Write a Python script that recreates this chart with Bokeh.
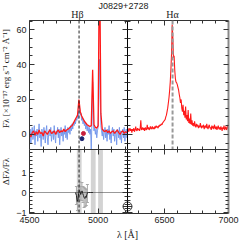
import numpy as np
from bokeh.plotting import figure
from bokeh.models import (Range1d, LinearAxis, FixedTicker, Span, Label, Whisker,
                          ColumnDataSource, TeeHead, BoxAnnotation)
from bokeh.layouts import column, row
from bokeh.embed import file_html
from bokeh.resources import INLINE

# ---------------- data ----------------
TITLE = "J0829+2728"
X_LEFT = (4500, 5214)
X_RIGHT = (6211, 7000)
Y_TOP = (-8.7, 65.3)
Y_BOT = (-1.05, 2.15)
HBETA = 4861
HALPHA = 6563

blue_left_start, blue_left_step = 4500, 5
blue_left = [-2, 3, -5, 1, 4, -3, 0, 5, -6, 2,
             -1, 3, -4, 1, 6, -2, 0, -7, 3, 1,
             -3, 4, 0, -5, 2, 5, -2, -6, 1, 3,
             -1, 4, -4, 0, 2, -3, 5, -1, -5, 2,
             0, 4, -2, 3, -6, 1, 4, -1, 2, -4,
             3, 0, 5, -2, 2, -3, 4, 1, 3, 0,
             5, 2, 6, 3, 7, 5, 8, 6, 9, 8,
             11, 9, 13, 15, 11, 12, 8, 10, 6, 8,
             5, 7, 3, 6, 2, 5, 1, 4, 0, 3,
             -9, 8, 30, 6, 2, 4, 0, 3, -2, 2,
             4, 20, 43, 25, 5, 2, -1, 3, -3, 1,
             4, -2, 2, -4, 3, 0, 5, -3, 1, -5,
             2, 4, -1, 3, -4, 0, 2, -6, 3, 1,
             -2, 4, -3, 2, -5, 1, 3, -2, 4, -4,
             1, 3, -2, 2]

red_left_start, red_left_step = 4500, 10
red_left = [0.5, -1.5, 1.0, 2.0, -0.5, 1.5, 0.0, 2.5, 0.5, 1.0,
            -1.0, 2.0, 1.0, 0.0, 1.5, 2.5, 0.5, 1.0, 2.0, 0.0,
            1.5, 2.5, 1.0, 2.0, 1.5, 3.0, 1.5, 2.5, 3.0, 3.5,
            4.5, 5.0, 6.5, 8.0, 9.5, 11.0, 20.0, 13.0, 10.5, 9.0,
            7.5, 6.5, 5.5, 5.0, 4.5, 5.0, 37.0, 5.5, 4.0, 3.5,
            5.0, 110.0, 12.0, 3.0, 2.0, 1.5, 2.5, 1.0, 2.0, 0.5,
            1.5, 2.0, 0.5, 1.5, 2.5, 1.0, 0.0, 1.5, 2.0, 0.5,
            1.5, 1.0]

red_right_start, red_right_step = 6210, 5
red_right = [2.0, 3.5, 1.5, 2.5, 3.5, 2.0, 3.0, 1.0, 3.0, 2.0,
             3.5, 1.5, 2.5, 4.5, 2.5, 2.0, 3.5, 2.5, 3.0, 2.0,
             3.5, 8.0, 2.5, 3.0, 4.0, 2.5, 3.5, 2.0, 4.0, 3.0,
             2.5, 5.5, 3.0, 4.0, 2.5, 3.5, 4.5, 3.0, 3.5, 4.5,
             3.0, 4.0, 3.0, 4.5, 3.5, 5.0, 4.0, 4.5, 3.5, 5.0,
             4.5, 5.5, 5.0, 6.0, 5.5, 6.5, 7.0, 7.5, 8.0, 8.5,
             10.0, 11.0, 13.0, 15.0, 18.0, 21.0, 25.0, 30.0, 37.0, 46.0,
             63.0, 56.0, 44.0, 45.0, 37.0, 32.0, 30.0, 29.5, 28.5, 27.0,
             25.5, 23.0, 21.0, 18.0, 20.0, 15.0, 13.0, 17.0, 11.0, 13.5,
             9.5, 16.0, 8.5, 11.0, 7.5, 14.0, 6.5, 9.0, 6.0, 12.0,
             5.5, 8.0, 5.0, 6.5, 4.5, 7.5, 5.0, 4.0, 6.0, 4.5,
             5.5, 3.5, 5.0, 4.0, 6.5, 4.5, 3.5, 5.0, 4.0, 5.5,
             3.0, 4.5, 5.0, 3.5, 6.0, 4.0, 3.0, 4.5, 5.5, 3.5,
             4.0, 2.5, 5.0, 3.5, 4.5, 3.0, 5.5, 4.0, 3.0, 4.5,
             2.5, 4.0, 5.0, 3.0, 4.0, 2.5, 4.5, 3.5, 2.0, 4.0,
             3.0, 5.0, 2.5, 3.5, 4.5, 2.5, 3.5, 5.5, 3.0]

dot_red = (4893, 0.5)
dot_blue = (4882, -2.5)

resid_wave = [4835, 4842, 4848, 4853, 4858, 4863, 4868, 4873, 4878, 4883, 4888,
              4893, 4898, 4903, 4908, 4913, 4918, 4923, 4930, 4945, 4962]
resid_val = [0.0, -0.15, -0.45, -0.35, -0.05, 0.1, 0.05, -0.1, 0.0, 0.08, -0.05,
             -0.15, -0.25, -0.3, -0.2, -0.25, -0.1, 0.0, 0.0, 0.0, 0.0]
err_wave = [4842, 4850, 4858, 4866, 4874, 4882, 4890, 4898, 4906, 4914, 4922]
err_val = [-0.15, -0.4, -0.05, 0.08, -0.05, 0.05, -0.1, -0.25, -0.25, -0.25, -0.05]
err_size = [0.45, 0.5, 0.4, 0.45, 0.35, 0.45, 0.4, 0.5, 0.45, 0.4, 0.45]

mask_lo = [4845, 4947, 5000]
mask_hi = [4880, 4982, 5035]
earth_y = -0.7

top_major = [0, 20, 40, 60]
top_minor = [-5, 5, 10, 15, 25, 30, 35, 45, 50, 55, 65]
bot_major = [-1, 0, 1]
bot_minor = [-0.8, -0.6, -0.4, -0.2, 0.2, 0.4, 0.6, 0.8, 1.2, 1.4, 1.6, 1.8, 2.0]
left_major = [4500, 5000]
left_minor = [4600, 4700, 4800, 4900, 5100, 5200]
right_major = [6500, 7000]
right_minor = [6300, 6400, 6600, 6700, 6800, 6900]

YLABEL_TOP = "Fλ [×10⁻¹⁷ erg s⁻¹ cm⁻² Å⁻¹]"
YLABEL_BOT = "ΔFλ/Fλ"
XLABEL = "λ [Å]"

# ---------------- helpers ----------------
SANS = "Liberation Sans"
SERIF = "Liberation Serif"


def make_fig(w, h, xr, yr, mb):
    p = figure(width=w, height=h, x_range=Range1d(*xr), y_range=Range1d(*yr),
               output_backend="svg", toolbar_location=None,
               x_axis_type=None, y_axis_type=None,
               min_border_left=mb[0], min_border_right=mb[1],
               min_border_top=mb[2], min_border_bottom=mb[3])
    p.outline_line_color = None
    p.background_fill_color = "white"
    p.border_fill_color = "white"
    return p


def add_axis(p, side, ticks, minor, labels=False, color="#333333", width=1,
             overrides=None, tick_in=5, minor_in=3):
    ax = LinearAxis(ticker=FixedTicker(ticks=ticks, minor_ticks=minor))
    ax.major_tick_in = tick_in
    ax.major_tick_out = 0
    ax.minor_tick_in = minor_in
    ax.minor_tick_out = 0
    ax.axis_line_color = color
    ax.axis_line_width = width
    ax.major_tick_line_color = "#333333"
    ax.minor_tick_line_color = "#333333"
    if labels:
        ax.major_label_text_font = SANS
        ax.major_label_text_font_size = "9px"
        ax.major_label_standoff = 3
        ax.major_label_text_color = "#222222"
    else:
        ax.major_label_text_font_size = "0px"
        ax.major_label_text_color = None
        ax.major_label_standoff = 0
    if overrides:
        ax.major_label_overrides = overrides
    p.add_layout(ax, side)
    return ax


bl_x = blue_left_start + blue_left_step * np.arange(len(blue_left))
rl_x = red_left_start + red_left_step * np.arange(len(red_left))
rr_x = red_right_start + red_right_step * np.arange(len(red_right))

BLUE = "#6f93ea"
RED = "#ff1a1a"

# ---------------- header ----------------
W_TOTAL = 241
header = make_fig(W_TOTAL, 20, (0, W_TOTAL), (0, 20), (0, 0, 0, 0))
header.add_layout(Label(x=123, y=14.5, text=TITLE, text_font=SANS, text_font_size="9px",
                        text_align="center", text_baseline="middle", text_color="#222222"))
header.add_layout(Label(x=77, y=6.5, text="Hβ", text_font=SERIF, text_font_size="10px",
                        text_align="center", text_baseline="middle", text_color="#222222"))
header.add_layout(Label(x=172, y=6.5, text="Hα", text_font=SERIF, text_font_size="10px",
                        text_align="center", text_baseline="middle", text_color="#222222"))

# ---------------- y-title strips ----------------
TW = 13
yt_top = make_fig(TW, 129, (0, TW), (0, 129), (0, 0, 0, 0))
yt_top.add_layout(Label(x=5, y=71, text=YLABEL_TOP, angle=np.pi / 2, text_font=SERIF,
                        text_font_size="9px", text_align="center", text_baseline="middle",
                        text_color="#222222"))
yt_bot = make_fig(TW, 79, (0, TW), (0, 79), (0, 0, 0, 0))
yt_bot.add_layout(Label(x=5, y=52, text=YLABEL_BOT, angle=np.pi / 2, text_font=SERIF,
                        text_font_size="9px", text_align="center", text_baseline="middle",
                        text_color="#222222"))

LB = 27 - TW  # left border of the left panels

# ---------------- top-left ----------------
tl = make_fig(127 - TW, 129, X_LEFT, Y_TOP, (LB, 0, 0, 0))
add_axis(tl, "left", top_major, top_minor, labels=True)
add_axis(tl, "right", top_major, top_minor, color="black", width=1)
add_axis(tl, "above", left_major, left_minor)
add_axis(tl, "below", left_major, left_minor)
tl.line(bl_x, blue_left, line_color=BLUE, line_width=1, line_alpha=0.9)
tl.line(rl_x, red_left, line_color=RED, line_width=1.3)
tl.add_layout(Span(location=HBETA, dimension="height", line_color="#222222",
                   line_dash="3 2", line_width=1))
tl.scatter([dot_red[0]], [dot_red[1]], size=4, color="#c8203c")
tl.scatter([dot_blue[0]], [dot_blue[1]], size=4, color="#1c2570")

# ---------------- top-right ----------------
tr = make_fig(114, 129, X_RIGHT, Y_TOP, (0, 13, 0, 0))
add_axis(tr, "left", top_major, top_minor, color="black", width=1)
add_axis(tr, "right", top_major, top_minor, color="#888888", width=2)
add_axis(tr, "above", right_major, right_minor)
add_axis(tr, "below", right_major, right_minor)
tr.add_layout(Span(location=HALPHA, dimension="height", line_color="#999999",
                   line_dash="4 2", line_width=2))
tr.line(rr_x, red_right, line_color=RED, line_width=1.1)

# ---------------- bottom-left ----------------
bl = make_fig(127 - TW, 79, X_LEFT, Y_BOT, (LB, 0, 0, 15))
add_axis(bl, "left", bot_major, bot_minor, labels=True, overrides={-1: "−1"})
add_axis(bl, "right", bot_major, bot_minor, color="black", width=1)
add_axis(bl, "above", left_major, left_minor)
add_axis(bl, "below", left_major, left_minor, labels=True)
for lo, hi in zip(mask_lo, mask_hi):
    bl.add_layout(BoxAnnotation(left=lo, right=hi, fill_color="#c8c8c8", fill_alpha=0.8,
                                line_color=None, level="underlay"))
bl.add_layout(Span(location=0, dimension="width", line_color="#333333",
                   line_dash="1 1", line_width=1))
bl.add_layout(Span(location=HBETA, dimension="height", line_color="#222222",
                   line_dash="3 2", line_width=1))
err_src = ColumnDataSource(dict(
    x=err_wave,
    up=[v + e for v, e in zip(err_val, err_size)],
    lo=[v - e for v, e in zip(err_val, err_size)]))
bl.add_layout(Whisker(source=err_src, base="x", upper="up", lower="lo",
                      line_color="#aaaaaa", line_width=1, level="underlay",
                      upper_head=TeeHead(size=3, line_color="#aaaaaa"),
                      lower_head=TeeHead(size=3, line_color="#aaaaaa")))
bl.line(resid_wave, resid_val, line_color="#222222", line_width=1)
bl.scatter([X_LEFT[1]], [earth_y], marker="circle_cross", size=9,
           fill_color=None, line_color="#333333", line_width=1)

# ---------------- bottom-right ----------------
br = make_fig(114, 79, X_RIGHT, Y_BOT, (0, 13, 0, 15))
add_axis(br, "left", bot_major, bot_minor, color="black", width=1)
add_axis(br, "right", bot_major, bot_minor, color="#888888", width=2)
add_axis(br, "above", right_major, right_minor)
add_axis(br, "below", right_major, right_minor, labels=True)
br.scatter([X_RIGHT[0]], [earth_y], marker="circle_cross", size=9,
           fill_color=None, line_color="#333333", line_width=1)

# ---------------- footer ----------------
footer = make_fig(W_TOTAL, 12, (0, W_TOTAL), (0, 12), (0, 0, 0, 0))
footer.add_layout(Label(x=127, y=6, text=XLABEL, text_font=SERIF, text_font_size="10px",
                        text_align="center", text_baseline="middle", text_color="#222222"))

layout = column(header, row(yt_top, tl, tr), row(yt_bot, bl, br), footer)

open("out.html", "w").write(file_html(layout, INLINE))
